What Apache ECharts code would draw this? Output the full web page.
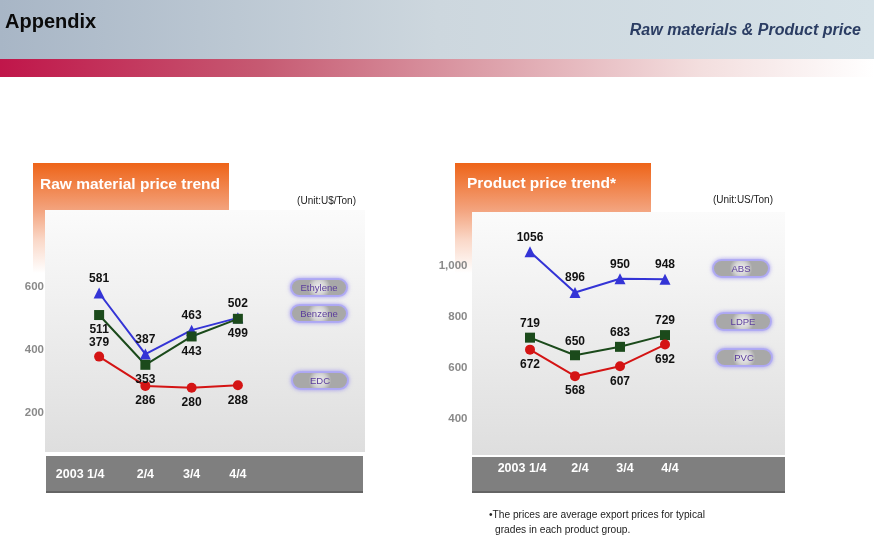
<!DOCTYPE html>
<html><head><meta charset="utf-8">
<script src="https://cdn.jsdelivr.net/npm/echarts@6/dist/echarts.min.js"></script>
<style>html,body{margin:0;padding:0;background:#fff}#c{width:874px;height:547px}</style>
</head><body><div id="c"></div>
<script>
var quarters = ['2003 1/4', '2/4', '3/4', '4/4'];
var rawNames = ['Ethylene', 'Benzene', 'EDC'];
var ethylene = [581, 387, 463, 502];
var benzene = [511, 353, 443, 499];
var edc = [379, 286, 280, 288];
var prodNames = ['ABS', 'LDPE', 'PVC'];
var abs = [1056, 896, 950, 948];
var ldpe = [719, 650, 683, 729];
var pvc = [672, 568, 607, 692];
var rawTicks = [0, 800, 200];
var prodTicks = [200, 1200, 200];

var ethPos = ['top', 'top', 'top', 'top'];
var benPos = ['bottom', 'bottom', 'bottom', 'bottom'];
var edcPos = ['top', 'bottom', 'bottom', 'bottom'];
var absPos = ['top', 'top', 'top', 'top'];
var ldpePos = ['top', 'top', 'top', 'top'];
var pvcPos = ['bottom', 'bottom', 'bottom', 'bottom'];

var SANS = "'Liberation Sans',Arial,sans-serif";
var BLUE = '#3434d6', GREEN = '#1b4a1b', RED = '#d41414';

function items(vals, pos) {
  return vals.map(function (v, i) {
    return { value: v, label: { position: pos[i], distance: pos[i] === 'bottom' ? 4 : 3 } };
  });
}
function mkSeries(name, vals, pos, color, symbol, size, xi) {
  return {
    name: name, type: 'line', xAxisIndex: xi, yAxisIndex: xi,
    data: items(vals, pos), symbol: symbol, symbolSize: size,
    lineStyle: { color: color, width: 2 }, itemStyle: { color: color },
    label: { show: true, color: '#111', fontWeight: 'bold', fontSize: 12, fontFamily: SANS },
    z: 5
  };
}
function pill(name, left, top) {
  return {
    data: [name], left: left, top: top, icon: 'none', itemWidth: 0, itemHeight: 0, itemGap: 0,
    selectedMode: false, padding: 0,
    formatter: function (n) { return '{p|' + n + '}'; },
    textStyle: {
      rich: {
        p: {
          color: '#5b3c9c', fontSize: 9.5, fontFamily: SANS, width: 36, align: 'center',
          padding: [3, 9, 2, 9], borderRadius: 9, borderColor: '#b6b2f4', borderWidth: 2,
          backgroundColor: {
            type: 'radial', x: 0.5, y: 0.5, r: 0.6,
            colorStops: [{ offset: 0, color: '#f0f0f0' }, { offset: 0.6, color: '#d2d2d2' }, { offset: 1, color: '#a8a8a8' }]
          },
          shadowColor: 'rgba(150,140,240,0.7)', shadowBlur: 4
        }
      }
    }
  };
}
function xAx(gi, firstPad, otherPad) {
  var st = { color: '#fff', fontWeight: 'bold', fontSize: 12.5, fontFamily: SANS };
  return {
    type: 'category', gridIndex: gi, data: quarters, boundaryGap: true,
    axisLine: { show: false }, axisTick: { show: false }, splitLine: { show: false },
    axisLabel: {
      color: '#fff', fontWeight: 'bold', fontSize: 12.5, fontFamily: SANS, margin: -8, interval: 0,
      formatter: function (v, i) { return i === 0 ? '{f|' + v + '}' : '{o|' + v + '}'; },
      rich: {
        f: Object.assign({ padding: firstPad }, st),
        o: Object.assign({ padding: otherPad }, st)
      }
    }
  };
}
function yAx(gi, t, margin, fmt) {
  return {
    type: 'value', gridIndex: gi, min: t[0], max: t[1], interval: t[2],
    axisLine: { show: false }, axisTick: { show: false }, splitLine: { show: false },
    axisLabel: {
      color: '#8a8a8a', fontSize: 11.5, fontFamily: SANS, fontWeight: 'bold', margin: margin,
      showMinLabel: false, showMaxLabel: false, formatter: fmt
    }
  };
}

var chart = echarts.init(document.getElementById('c'));
chart.setOption({
  animation: false,
  grid: [
    { left: 76, width: 185, top: 224, bottom: 71 },
    { left: 507.5, width: 180, top: 215, bottom: 77 }
  ],
  xAxis: [xAx(0, [0, 38, 0, 0], [0, 0, 0, 0]), xAx(1, [0, 16, 0, 0], [0, 0, 0, 10])],
  yAxis: [
    yAx(0, rawTicks, 32, function (v) { return v; }),
    yAx(1, prodTicks, 40, function (v) { return v >= 1000 ? (Math.floor(v / 1000) + ',' + String(v % 1000).padStart(3, '0')) : v; })
  ],
  legend: [
    pill(rawNames[0], 287, 278),
    pill(rawNames[1], 287, 304),
    pill(rawNames[2], 288, 371),
    pill(prodNames[0], 709, 259),
    pill(prodNames[1], 711, 312),
    pill(prodNames[2], 712, 348)
  ],
  series: [
    mkSeries(rawNames[0], ethylene, ethPos, BLUE, 'triangle', 11, 0),
    mkSeries(rawNames[1], benzene, benPos, GREEN, 'rect', 10, 0),
    mkSeries(rawNames[2], edc, edcPos, RED, 'circle', 10, 0),
    mkSeries(prodNames[0], abs, absPos, BLUE, 'triangle', 11, 1),
    mkSeries(prodNames[1], ldpe, ldpePos, GREEN, 'rect', 10, 1),
    mkSeries(prodNames[2], pvc, pvcPos, RED, 'circle', 10, 1)
  ],
  graphic: [
    { type: 'rect', z: -10, shape: { x: 0, y: 0, width: 874, height: 59 },
      style: { fill: new echarts.graphic.LinearGradient(0, 0, 1, 0, [
        { offset: 0, color: '#a8b6c6' }, { offset: 0.5, color: '#cdd7de' }, { offset: 1, color: '#d6e2e8' }]) } },
    { type: 'rect', z: -10, shape: { x: 0, y: 59, width: 874, height: 18 },
      style: { fill: new echarts.graphic.LinearGradient(0, 0, 1, 0, [
        { offset: 0, color: '#c0164a' }, { offset: 0.3, color: '#c65a72' }, { offset: 0.55, color: '#dc9ea8' },
        { offset: 0.8, color: '#f3dede' }, { offset: 1, color: '#ffffff' }]) } },
    { type: 'text', z: 10, style: { x: 5, y: 22, text: 'Appendix', fill: '#0a0a0a', font: 'bold 20px ' + SANS, textVerticalAlign: 'middle' } },
    { type: 'text', z: 10, style: { x: 861, y: 31, text: 'Raw materials & Product price', fill: '#2b3d63', font: 'italic bold 16px ' + SANS, textAlign: 'right', textVerticalAlign: 'middle' } },

    { type: 'rect', z: -9, shape: { x: 33, y: 163, width: 196, height: 110 },
      style: { fill: new echarts.graphic.LinearGradient(0, 0, 0, 1, [
        { offset: 0, color: '#ee6418' }, { offset: 0.42, color: '#f3a27c' }, { offset: 0.7, color: '#fad8c8' }, { offset: 1, color: '#ffffff' }]) } },
    { type: 'rect', z: -8, shape: { x: 45, y: 210, width: 320, height: 242 },
      style: { fill: new echarts.graphic.LinearGradient(0, 0, 0, 1, [
        { offset: 0, color: '#fbfbfb' }, { offset: 1, color: '#dedede' }]) } },
    { type: 'rect', z: -8, shape: { x: 46, y: 456, width: 317, height: 37 }, style: { fill: '#7f7f7f' } },
    { type: 'rect', z: -7, shape: { x: 46, y: 491, width: 317, height: 2 }, style: { fill: '#646464' } },
    { type: 'text', z: 10, style: { x: 40, y: 185, text: 'Raw material price trend', fill: '#fff', font: 'bold 15.5px ' + SANS, textVerticalAlign: 'middle' } },
    { type: 'text', z: 10, style: { x: 356, y: 201, text: '(Unit:U$/Ton)', fill: '#222', font: '10px ' + SANS, textAlign: 'right', textVerticalAlign: 'middle' } },

    { type: 'rect', z: -9, shape: { x: 455, y: 163, width: 196, height: 110 },
      style: { fill: new echarts.graphic.LinearGradient(0, 0, 0, 1, [
        { offset: 0, color: '#ee6418' }, { offset: 0.42, color: '#f3a27c' }, { offset: 0.7, color: '#fad8c8' }, { offset: 1, color: '#ffffff' }]) } },
    { type: 'rect', z: -8, shape: { x: 472, y: 212, width: 313, height: 243 },
      style: { fill: new echarts.graphic.LinearGradient(0, 0, 0, 1, [
        { offset: 0, color: '#fbfbfb' }, { offset: 1, color: '#dedede' }]) } },
    { type: 'rect', z: -8, shape: { x: 472, y: 457, width: 313, height: 36 }, style: { fill: '#7f7f7f' } },
    { type: 'rect', z: -7, shape: { x: 472, y: 491, width: 313, height: 2 }, style: { fill: '#646464' } },
    { type: 'text', z: 10, style: { x: 467, y: 184, text: 'Product price trend*', fill: '#fff', font: 'bold 15.5px ' + SANS, textVerticalAlign: 'middle' } },
    { type: 'text', z: 10, style: { x: 773, y: 200, text: '(Unit:US/Ton)', fill: '#222', font: '10px ' + SANS, textAlign: 'right', textVerticalAlign: 'middle' } },

    { type: 'text', z: 10, style: { x: 489, y: 515, text: '\u2022The prices are average export prices for typical', fill: '#222', font: '10.2px ' + SANS, textVerticalAlign: 'middle' } },
    { type: 'text', z: 10, style: { x: 495, y: 530, text: 'grades in each product group.', fill: '#222', font: '10.2px ' + SANS, textVerticalAlign: 'middle' } }
  ]
});
</script>
</body></html>
